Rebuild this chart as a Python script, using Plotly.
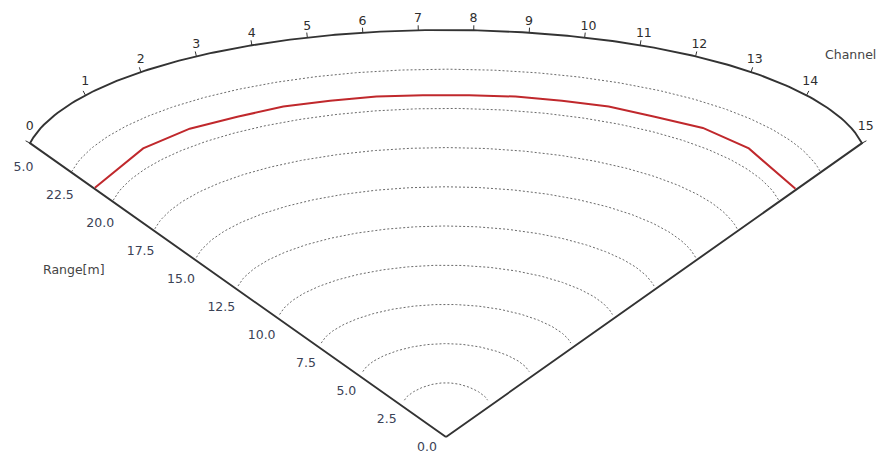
import numpy as np
import plotly.graph_objects as go

# ---- data -------------------------------------------------------------
channels = list(range(16))
channel_labels = [str(c) for c in channels]
# measured range per channel, metres
ranges_m = [21.1, 21.0, 21.0, 20.9, 20.95, 20.9, 20.9, 20.85,
            20.85, 20.9, 20.9, 20.95, 20.9, 21.05, 21.0, 21.0]
# range grid and its labels
range_ticks = [0.0, 2.5, 5.0, 7.5, 10.0, 12.5, 15.0, 17.5, 20.0, 22.5, 25.0]
range_tick_labels = ["0.0", "2.5", "5.0", "7.5", "10.0", "12.5",
                     "15.0", "17.5", "20.0", "22.5", "25.0"]
R_MAX = 25.0

# ---- sector projection (screen units, y grows downward) ---------------
W, H = 879, 457
LEFT = 14                            # left edge of the drawing area
APEX_X, APEX_Y = 446.0, 437.0
HALF_W = 416.0                       # half width of the fan at R_MAX
ELL_C, ELL_A, ELL_B = 271.0, 422.0, 136.0   # shape of the outer arc
LIFT = 15.0                          # rounding of the inner arcs
LIFT_EDGE = 0.55                     # share of the lift kept at the fan edges
CH_MID = (channels[0] + channels[-1]) / 2.0


def project(ch, r, lifted=True):
    ch = np.asarray(ch, dtype=float)
    r = np.asarray(r, dtype=float)
    s = (ch - CH_MID) / CH_MID
    f = r / R_MAX
    u = HALF_W * s
    h = ELL_C + ELL_B * np.sqrt(np.clip(1 - (u / ELL_A) ** 2, 0, None))
    shape = LIFT_EDGE + (1 - LIFT_EDGE) * np.cos(np.pi * s / 2)
    lift = LIFT * (1 - f) * shape if lifted else 0.0
    return APEX_X + f * u, APEX_Y - f * h - lift


def joined(segments):
    xs, ys = [], []
    for sx, sy in segments:
        xs += list(sx) + [None]
        ys += list(sy) + [None]
    return xs, ys


fig = go.Figure()

# dotted range circles
sweep = np.linspace(channels[0], channels[-1], 241)
grid = [project(sweep, np.full_like(sweep, g)) for g in range_ticks[1:-1]]
gx, gy = joined(grid)
fig.add_trace(go.Scatter(x=gx, y=gy, mode="lines", hoverinfo="skip",
                         line=dict(color="#6a6a6a", width=1, dash="2px,2px")))

# fan outline: left edge, outer arc, right edge
ox, oy = project(sweep, np.full_like(sweep, R_MAX))
edge_x = [APEX_X] + list(ox) + [APEX_X]
edge_y = [APEX_Y] + list(oy) + [APEX_Y]
fig.add_trace(go.Scatter(x=edge_x, y=edge_y, mode="lines", hoverinfo="skip",
                         line=dict(color="#333333", width=1.9)))

# channel ticks along the outward normal of the outer arc
ch = np.array(channels, dtype=float)
tx, ty = project(ch, np.full_like(ch, R_MAX))
tx1, ty1 = project(ch + 0.01, np.full_like(ch, R_MAX))
tx0, ty0 = project(ch - 0.01, np.full_like(ch, R_MAX))
dxs, dys = tx1 - tx0, ty1 - ty0
norm = np.hypot(dxs, dys)
nx, ny = dys / norm, -dxs / norm
TICK = 5.0
ticks = [([tx[i], tx[i] + TICK * nx[i]], [ty[i], ty[i] + TICK * ny[i]])
         for i in range(len(channels))]
kx, ky = joined(ticks)
fig.add_trace(go.Scatter(x=kx, y=ky, mode="lines", hoverinfo="skip",
                         line=dict(color="#333333", width=1)))

# channel numbers
s_ch = (ch - CH_MID) / CH_MID
lab_x = tx - 4.2
lab_y = ty - (11 + 5 * np.abs(s_ch) ** 6)
fig.add_trace(go.Scatter(x=lab_x, y=lab_y, mode="text", text=channel_labels,
                         textposition="middle right", hoverinfo="skip",
                         textfont=dict(family="DejaVu Sans", size=12.5,
                                       color="#2e2e2e")))

# range labels along the left edge (straight edge, no lift)
rt = np.array(range_ticks)
ex, ey = project(np.zeros_like(rt), rt, lifted=False)
rl_x = APEX_X - 9 + 0.97 * (ex - APEX_X)
rl_y = APEX_Y + 10.5 + 0.95 * (ey - APEX_Y)
fig.add_trace(go.Scatter(x=rl_x, y=rl_y, mode="text", text=range_tick_labels,
                         textposition="middle left", hoverinfo="skip",
                         cliponaxis=True,
                         textfont=dict(family="DejaVu Sans", size=12.5,
                                       color="#3b4256")))

# measured range profile
px, py = project(channels, ranges_m)
fig.add_trace(go.Scatter(x=px, y=py, mode="lines", hoverinfo="skip",
                         line=dict(color="#c0282c", width=2)))

fig.add_annotation(x=73.5, y=269, text="Range[m]", showarrow=False,
                   font=dict(family="DejaVu Sans", size=12.5, color="#454545"))
fig.add_annotation(x=850.5, y=54, text="Channel", showarrow=False,
                   font=dict(family="DejaVu Sans", size=12.5, color="#454545"))

fig.update_layout(
    width=W, height=H, showlegend=False,
    margin=dict(l=LEFT, r=0, t=0, b=0, pad=0),
    paper_bgcolor="white", plot_bgcolor="white",
    xaxis=dict(range=[LEFT, W], visible=False, fixedrange=True),
    yaxis=dict(range=[H, 0], visible=False, fixedrange=True),
)

fig.write_html("out.html")
